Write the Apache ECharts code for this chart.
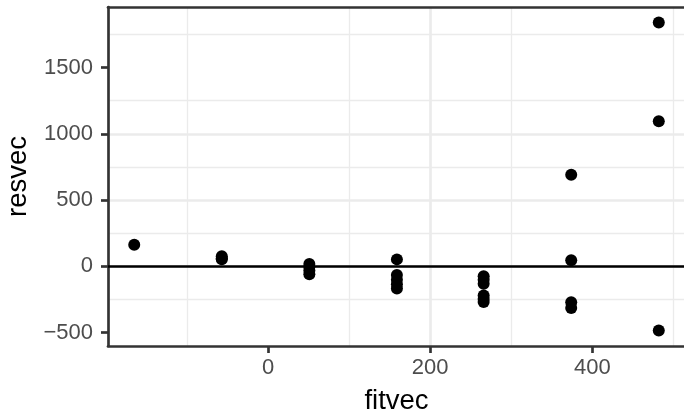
<!DOCTYPE html>
<html>
<head>
<meta charset="utf-8">
<script src="https://cdn.jsdelivr.net/npm/echarts@6.0.0/dist/echarts.min.js"></script>
<style>
  html, body { margin: 0; padding: 0; background: #fff; }
  #main { width: 684px; height: 413px; }
</style>
</head>
<body>
<div id="main"></div>
<script>
// fitted values and residuals
var fitvec = [-165,
  -57, -57, -57,
  51, 51, 51, 51,
  159, 159, 159, 159, 159,
  266, 266, 266, 266, 266, 266,
  374, 374, 374, 374,
  482, 482, 482];
var resvec = [164,
  76, 62, 54,
  19, -5, -30, -60,
  53, -64, -100, -135, -167,
  -75, -100, -130, -220, -245, -269,
  692, 47, -271, -313,
  1840, 1094, -484];

var xTicks = [0, 200, 400];
var yTicks = [-500, 0, 500, 1000, 1500];

// ggplot style 5% expansion
var expand = function(arr){
  var lo = Math.min.apply(null, arr), hi = Math.max.apply(null, arr);
  var d = (hi - lo) * 0.05;
  return [lo - d, hi + d];
};
var xr = expand(fitvec);
var yr = expand(resvec);

var points = [];
for (var i = 0; i < fitvec.length; i++) {
  points.push([fitvec[i], resvec[i]]);
}

var fmt = function(v){
  return v < 0 ? '\u2212' + Math.abs(v) : String(v);
};

var lw = 2.67;
var gridCol = '#EBEBEB';
var dark = '#333333';
var tickFont = { fontFamily: 'Liberation Sans', fontSize: 22, color: '#4D4D4D' };
var titleFont = { fontFamily: 'Liberation Sans', fontSize: 27.5, color: '#000000' };

var borderAxis = {
  type: 'value', z: 5,
  axisLine: { show: true, onZero: false, lineStyle: { color: dark, width: lw } },
  axisTick: { show: false }, axisLabel: { show: false },
  splitLine: { show: false }
};

var option = {
  animation: false,
  grid: { left: 108, top: 7, width: 577, height: 339, show: false,
          containLabel: false, outerBoundsMode: 'none' },
  xAxis: [{
    type: 'value', min: xr[0], max: xr[1], splitNumber: 3,
    name: 'fitvec', nameLocation: 'middle', nameGap: 41, nameTextStyle: titleFont,
    axisLine: { show: true, onZero: false, lineStyle: { color: dark, width: lw } },
    axisTick: { show: true, length: 7, customValues: xTicks, lineStyle: { color: dark, width: lw } },
    axisLabel: Object.assign({ margin: 11, customValues: xTicks,
      formatter: function(v){ return xTicks.indexOf(v) >= 0 ? fmt(v) : ''; } }, tickFont),
    splitLine: { show: true, showMinLine: false, showMaxLine: false, lineStyle: { color: gridCol, width: lw } },
    minorTick: { show: false, splitNumber: 2 },
    minorSplitLine: { show: true, lineStyle: { color: gridCol, width: lw / 2 } }
  }, Object.assign({ position: 'top', min: xr[0], max: xr[1] }, borderAxis)],
  yAxis: [{
    type: 'value', min: yr[0], max: yr[1], splitNumber: 5,
    name: 'resvec', nameLocation: 'middle', nameGap: 76, nameTextStyle: titleFont,
    axisLine: { show: true, onZero: false, lineStyle: { color: dark, width: lw } },
    axisTick: { show: true, length: 7, customValues: yTicks, lineStyle: { color: dark, width: lw } },
    axisLabel: Object.assign({ margin: 15, customValues: yTicks,
      formatter: function(v){ return yTicks.indexOf(v) >= 0 ? fmt(v) : ''; } }, tickFont),
    splitLine: { show: true, showMinLine: false, showMaxLine: false, lineStyle: { color: gridCol, width: lw } },
    minorTick: { show: false, splitNumber: 2 },
    minorSplitLine: { show: true, lineStyle: { color: gridCol, width: lw / 2 } }
  }, Object.assign({ position: 'right', min: yr[0], max: yr[1] }, borderAxis)],
  series: [{
    type: 'scatter',
    data: points,
    symbolSize: 12,
    itemStyle: { color: '#000000', opacity: 1 },
    z: 3,
    markLine: {
      silent: true,
      symbol: ['none', 'none'],
      label: { show: false },
      lineStyle: { color: '#000000', width: lw, type: 'solid' },
      data: [{ yAxis: 0 }]
    }
  }]
};

echarts.init(document.getElementById('main'), null, { renderer: 'canvas' }).setOption(option);
</script>
</body>
</html>
